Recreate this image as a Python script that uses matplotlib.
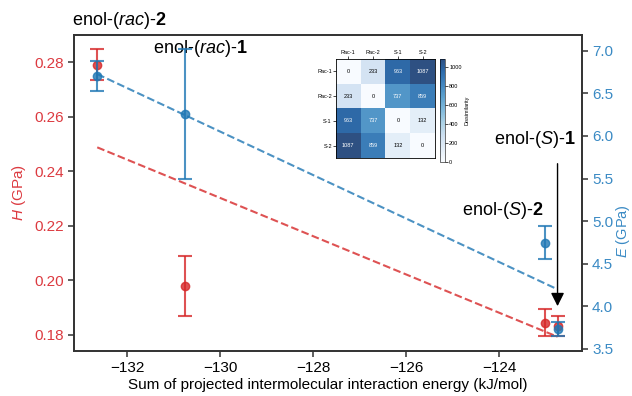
import numpy as np
import matplotlib
matplotlib.use("Agg")
import matplotlib.pyplot as plt

plt.rcParams['font.family'] = ['Liberation Sans', 'DejaVu Sans']
plt.rcParams['mathtext.fontset'] = 'custom'
plt.rcParams['mathtext.rm'] = 'Liberation Sans'
plt.rcParams['mathtext.it'] = 'Liberation Sans:italic'
plt.rcParams['mathtext.bf'] = 'Liberation Sans:bold'

# data
energy = [-132.65, -130.77, -123.02, -122.74]   # rac-2, rac-1, S-2, S-1
hardness = [0.2791, 0.1981, 0.1845, 0.1833]
hardness_err = [0.0057, 0.011, 0.005, 0.0038]
modulus = [6.704, 6.258, 4.748, 3.735]
modulus_err = [0.18, 0.763, 0.195, 0.08]

heat_labels = ['Rac-1', 'Rac-2', 'S-1', 'S-2']
heat_values = [[0, 233, 963, 1087],
               [233, 0, 737, 859],
               [963, 737, 0, 132],
               [1087, 859, 132, 0]]

RED = '#d62728'
BLUE = '#1f77b4'
RED_TXT = '#dc3a40'
BLUE_TXT = '#3a8ac4'
SPINE = '#333333'

fig = plt.figure(figsize=(6.32, 3.96), dpi=100)
ax = fig.add_axes([0.1171, 0.1144, 0.8033, 0.7972])
ax2 = ax.twinx()

x = np.array(energy)
h = np.array(hardness)
e = np.array(modulus)

# linear fits
xs = np.array([x.min(), x.max()])
ph = np.polyfit(x, h, 1)
pe = np.polyfit(x, e, 1)
ax.plot(xs, np.polyval(ph, xs), '--', color=RED, alpha=0.8, lw=1.5)
ax2.plot(xs, np.polyval(pe, xs), '--', color=BLUE, alpha=0.8, lw=1.5)

ax.errorbar(x, h, yerr=hardness_err, fmt='o', color=RED, alpha=0.8,
            ms=6, capsize=5, elinewidth=1.5, capthick=1.5)
ax2.errorbar(x, e, yerr=modulus_err, fmt='o', color=BLUE, alpha=0.8,
             ms=6, capsize=5, elinewidth=1.5, capthick=1.5)

ax.set_xlim(-133.15, -122.22)
ax.set_ylim(0.1742, 0.29)
ax2.set_ylim(3.48, 7.185)
ax.set_xticks(np.arange(-132, -123, 2))
ax.set_yticks(np.arange(0.18, 0.281, 0.02))
ax2.set_yticks(np.arange(3.5, 7.01, 0.5))
ax.set_yticklabels(['%.2f' % v for v in np.arange(0.18, 0.281, 0.02)])
ax2.set_yticklabels(['%.1f' % v for v in np.arange(3.5, 7.01, 0.5)])

for a in (ax, ax2):
    for s in a.spines.values():
        s.set_color(SPINE)
        s.set_linewidth(1.25)
    a.tick_params(length=4, width=1.1, color=SPINE, labelsize=11)
ax.tick_params(axis='y', labelcolor=RED_TXT)
ax2.tick_params(axis='y', labelcolor=BLUE_TXT)

ax.set_xlabel('Sum of projected intermolecular interaction energy (kJ/mol)',
              fontsize=11, labelpad=2)
ax.set_ylabel(r'$\it{H}$ (GPa)', color=RED_TXT, fontsize=11)
ax2.set_ylabel(r'$\it{E}$ (GPa)', color=BLUE_TXT, fontsize=10.5)
ax2.yaxis.set_label_coords(1.064, 0.38)

# labels of the samples
ax.text(-133.2, 0.2955, r'enol-($\it{rac}$)-$\bf{2}$', fontsize=13,
        ha='left', va='center', clip_on=False)
ax.text(-131.45, 0.2852, r'enol-($\it{rac}$)-$\bf{1}$', fontsize=13,
        ha='left', va='center')
ax.text(-122.36, 0.2515, r'enol-($\it{S}$)-$\bf{1}$', fontsize=13,
        ha='right', va='center')
ax.text(-123.04, 0.2258, r'enol-($\it{S}$)-$\bf{2}$', fontsize=13,
        ha='right', va='center')
ax2.annotate('', xy=(energy[3], 3.97), xytext=(energy[3], 5.707),
             arrowprops=dict(arrowstyle='-|>', color='black', lw=1,
                             mutation_scale=20))

# inset heatmap
hax = fig.add_axes([0.5316, 0.601, 0.1566, 0.25])
im = hax.imshow(heat_values, cmap='Blues', vmin=0, vmax=1087, alpha=0.85)
for i in range(len(heat_labels)):
    for j in range(len(heat_labels)):
        v = heat_values[i][j]
        hax.text(j, i, str(v), ha='center', va='center', fontsize=4,
                 color='white' if v > 600 else 'black')
hax.set_xticks(range(len(heat_labels)))
hax.set_yticks(range(len(heat_labels)))
hax.set_xticklabels(heat_labels)
hax.set_yticklabels(heat_labels)
hax.xaxis.tick_top()
hax.tick_params(labelsize=4, length=2, width=0.5, pad=1)
for s in hax.spines.values():
    s.set_linewidth(0.6)

cax = fig.add_axes([0.696, 0.592, 0.008, 0.26])
cb = fig.colorbar(im, cax=cax, ticks=np.arange(0, 1001, 200))
cb.ax.tick_params(labelsize=4, length=2, width=0.5, pad=1)
cb.outline.set_linewidth(0.4)
cb.set_label('Dissimilarity', fontsize=4, rotation=90, labelpad=2)

fig.savefig('out.png', dpi=100)
